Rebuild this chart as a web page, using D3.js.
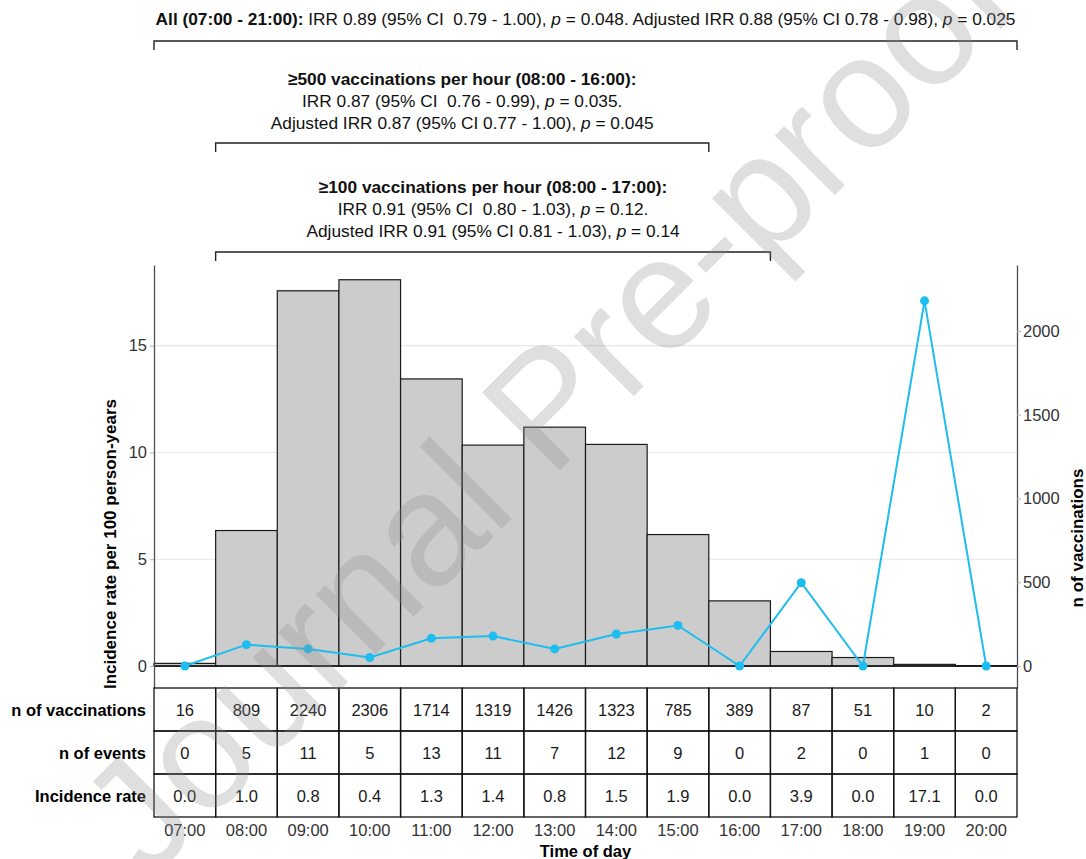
<!DOCTYPE html>
<html>
<head>
<meta charset="utf-8">
<script src="https://cdn.jsdelivr.net/npm/d3@7"></script>
<style>
  body { margin: 0; background: #fff; }
  text { font-family: "Liberation Sans", Arial, sans-serif; }
</style>
</head>
<body>
<script>
    var hours = ["07:00", "08:00", "09:00", "10:00", "11:00", "12:00", "13:00",
                 "14:00", "15:00", "16:00", "17:00", "18:00", "19:00", "20:00"];
    var nVaccinations = [16, 809, 2240, 2306, 1714, 1319, 1426, 1323, 785, 389, 87, 51, 10, 2];
    var nEvents = [0, 5, 11, 5, 13, 11, 7, 12, 9, 0, 2, 0, 1, 0];
    var incidenceRate = [0.0, 1.0, 0.8, 0.4, 1.3, 1.4, 0.8, 1.5, 1.9, 0.0, 3.9, 0.0, 17.1, 0.0];
    var leftTicks = [0, 5, 10, 15];
    var rightTicks = [0, 500, 1000, 1500, 2000];
    var rowLabels = ["n of vaccinations", "n of events", "Incidence rate"];

    // bracket annotations: [first hour, last hour (exclusive end), lines]
    var brackets = [
        { from: "07:00", to: "20:00", end: true,
          lines: [[["b", "All (07:00 - 21:00): "], ["", "IRR 0.89 (95% CI  0.79 - 1.00), "], ["i", "p"], ["", " = 0.048. Adjusted IRR 0.88 (95% CI 0.78 - 0.98), "], ["i", "p"], ["", " = 0.025"]]] },
        { from: "08:00", to: "16:00", end: false,
          lines: [[["b", "\u2265500 vaccinations per hour (08:00 - 16:00):"]],
                  [["", "IRR 0.87 (95% CI  0.76 - 0.99), "], ["i", "p"], ["", " = 0.035."]],
                  [["", "Adjusted IRR 0.87 (95% CI 0.77 - 1.00), "], ["i", "p"], ["", " = 0.045"]]] },
        { from: "08:00", to: "17:00", end: false,
          lines: [[["b", "\u2265100 vaccinations per hour (08:00 - 17:00):"]],
                  [["", "IRR 0.91 (95% CI  0.80 - 1.03), "], ["i", "p"], ["", " = 0.12."]],
                  [["", "Adjusted IRR 0.91 (95% CI 0.81 - 1.03), "], ["i", "p"], ["", " = 0.14"]]] }
    ];
    var bracketY = [41, 143, 252];
    var textTop = [25, 85, 193];

    var width = 1086, height = 859;
    var plot = {left: 154, right: 1017, top: 265, bottom: 688};
    var tableBottom = 817;

    var svg = d3.select("body").append("svg")
        .attr("width", width)
        .attr("height", height);

    var x = d3.scaleBand().domain(hours).range([plot.left, plot.right]).padding(0);
    var yL = d3.scaleLinear().domain([-1.03, 18.78]).range([plot.bottom, plot.top]);
    var yR = d3.scaleLinear().domain([-131, 2394]).range([plot.bottom, plot.top]);

    // grid
    svg.append("g").selectAll("line")
        .data(leftTicks.slice(1))
        .enter().append("line")
        .attr("x1", plot.left).attr("x2", plot.right)
        .attr("y1", function(d) { return yL(d); })
        .attr("y2", function(d) { return yL(d); })
        .attr("stroke", "#e6e6e6").attr("stroke-width", 1.2);

    // bars = n of vaccinations (right axis)
    svg.append("g").selectAll("rect")
        .data(nVaccinations)
        .enter().append("rect")
        .attr("x", function(d, i) { return x(hours[i]); })
        .attr("y", function(d) { return yR(d); })
        .attr("width", x.bandwidth())
        .attr("height", function(d) { return yR(0) - yR(d); })
        .attr("fill", "#cccccc")
        .attr("stroke", "#1a1a1a")
        .attr("stroke-width", 1.2);

    svg.append("line")
        .attr("x1", plot.left).attr("x2", plot.right)
        .attr("y1", yL(0)).attr("y2", yL(0))
        .attr("stroke", "#111").attr("stroke-width", 1.4);

    // line = incidence rate (left axis)
    var line = d3.line()
        .x(function(d, i) { return x(hours[i]) + x.bandwidth() / 2; })
        .y(function(d) { return yL(d); });

    svg.append("path")
        .datum(incidenceRate)
        .attr("fill", "none")
        .attr("stroke", "#1ebdf0")
        .attr("stroke-width", 2)
        .attr("d", line);

    svg.append("g").selectAll("circle")
        .data(incidenceRate)
        .enter().append("circle")
        .attr("cx", function(d, i) { return x(hours[i]) + x.bandwidth() / 2; })
        .attr("cy", function(d) { return yL(d); })
        .attr("r", 4.5)
        .attr("fill", "#1ebdf0");

    // axes
    var axL = svg.append("g")
        .attr("transform", "translate(" + plot.left + ",0)")
        .call(d3.axisLeft(yL).tickValues(leftTicks).tickSize(4).tickSizeOuter(0).tickPadding(3));
    var axR = svg.append("g")
        .attr("transform", "translate(" + plot.right + ",0)")
        .call(d3.axisRight(yR).tickValues(rightTicks).tickFormat(d3.format("d")).tickSize(4).tickSizeOuter(0).tickPadding(2));
    [axL, axR].forEach(function(a) {
        a.select(".domain").attr("stroke", "#4d4d4d").attr("stroke-width", 1.3);
        a.selectAll(".tick line").attr("stroke", "#b3b3b3");
        a.selectAll(".tick text")
            .attr("fill", "#333")
            .style("font-size", "16.5px")
            .style("font-family", "Liberation Sans, Arial, sans-serif");
    });

    svg.append("text")
        .attr("transform", "translate(116,544) rotate(-90)")
        .attr("text-anchor", "middle")
        .style("font-size", "17px").style("font-weight", "bold")
        .text("Incidence rate per 100 person-years");

    svg.append("text")
        .attr("transform", "translate(1083,538) rotate(-90)")
        .attr("text-anchor", "middle")
        .style("font-size", "17px").style("font-weight", "bold")
        .text("n of vaccinations");

    // table under the plot
    var rows = d3.scaleBand().domain(rowLabels).range([plot.bottom, tableBottom]);
    var tableValues = [nVaccinations, nEvents, incidenceRate.map(function(d) { return d.toFixed(1); })];

    var tg = svg.append("g");
    rowLabels.forEach(function(r, ri) {
        tg.selectAll(".cell" + ri)
            .data(tableValues[ri])
            .enter().append("rect")
            .attr("x", function(d, i) { return x(hours[i]); })
            .attr("y", rows(r))
            .attr("width", x.bandwidth())
            .attr("height", rows.bandwidth())
            .attr("fill", "none")
            .attr("stroke", "#111")
            .attr("stroke-width", 1.3);
        tg.selectAll(".val" + ri)
            .data(tableValues[ri])
            .enter().append("text")
            .attr("x", function(d, i) { return x(hours[i]) + x.bandwidth() / 2; })
            .attr("y", rows(r) + rows.bandwidth() / 2 + 6)
            .attr("text-anchor", "middle")
            .attr("fill", "#1a1a1a")
            .style("font-size", "16.5px")
            .text(function(d) { return d; });
        tg.append("text")
            .attr("x", 146)
            .attr("y", rows(r) + rows.bandwidth() / 2 + 6)
            .attr("text-anchor", "end")
            .style("font-size", "16.5px").style("font-weight", "bold")
            .text(r);
    });

    svg.append("g").selectAll("text")
        .data(hours)
        .enter().append("text")
        .attr("x", function(d) { return x(d) + x.bandwidth() / 2; })
        .attr("y", 836)
        .attr("text-anchor", "middle")
        .attr("fill", "#333")
        .style("font-size", "16.5px")
        .text(function(d) { return d; });

    svg.append("text")
        .attr("x", (plot.left + plot.right) / 2)
        .attr("y", 857)
        .attr("text-anchor", "middle")
        .style("font-size", "16.5px").style("font-weight", "bold")
        .text("Time of day");

    // brackets and their labels
    brackets.forEach(function(b, bi) {
        var x1 = x(b.from);
        var x2 = b.end ? x(b.to) + x.bandwidth() : x(b.to);
        var by = bracketY[bi];
        svg.append("path")
            .attr("d", "M" + x1 + "," + (by + 9) + "V" + by + "H" + x2 + "V" + (by + 9))
            .attr("fill", "none")
            .attr("stroke", "#222")
            .attr("stroke-width", 1.4);
        b.lines.forEach(function(ln, li) {
            var t = svg.append("text")
                .attr("x", (x1 + x2) / 2)
                .attr("y", textTop[bi] + li * 22)
                .attr("text-anchor", "middle")
                .attr("fill", "#111")
                .style("white-space", "pre")
                .style("font-size", "17.3px");
            ln.forEach(function(seg) {
                t.append("tspan")
                    .style("font-weight", seg[0] == "b" ? "bold" : "normal")
                    .style("font-style", seg[0] == "i" ? "italic" : "normal")
                    .text(seg[1]);
            });
        });
    });

    // watermark
    svg.append("text")
        .attr("transform", "translate(585,445) rotate(-45)")
        .attr("text-anchor", "middle")
        .attr("fill", "#8c8c8c")
        .attr("opacity", 0.27)
        .style("font-size", "160px")
        .text("Journal Pre-proof");
</script>
</body>
</html>
